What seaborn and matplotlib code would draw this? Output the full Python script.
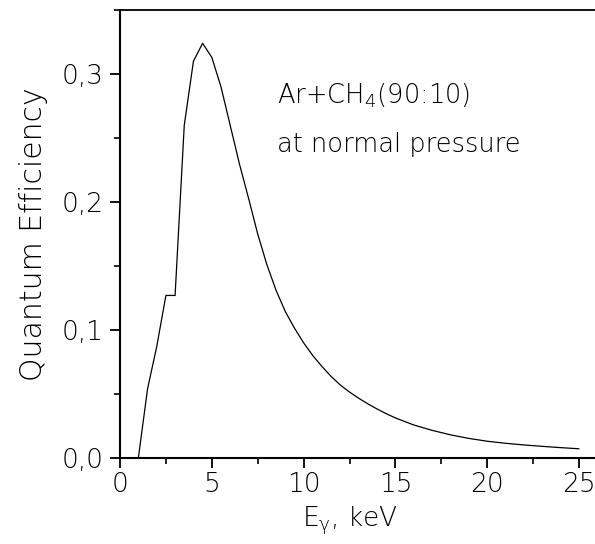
import matplotlib
matplotlib.use("Agg")
import matplotlib.pyplot as plt
from matplotlib.ticker import MultipleLocator, FuncFormatter
import seaborn as sns
import pandas as pd

energy_kev = [0, 1.0, 1.5, 2.0, 2.5, 3.0, 3.5, 4.0, 4.5, 5.0, 5.5, 6.0, 6.5, 7.0,
              7.5, 8.0, 8.5, 9.0, 9.5, 10, 10.5, 11, 11.5, 12, 12.5, 13, 13.5, 14,
              14.5, 15, 16, 17, 18, 19, 20, 21, 22, 23, 24, 25]
efficiency = [0.0, 0.0, 0.054, 0.087, 0.127, 0.127, 0.260, 0.310, 0.324, 0.313,
              0.290, 0.260, 0.230, 0.203, 0.175, 0.151, 0.131, 0.1145, 0.1015, 0.090,
              0.080, 0.0715, 0.0637, 0.057, 0.0515, 0.0467, 0.0423, 0.0383,
              0.0346, 0.0313, 0.0258, 0.0216, 0.0181, 0.0153, 0.0131, 0.0115,
              0.0102, 0.0091, 0.0081, 0.0072]
x_ticks = [0, 5, 10, 15, 20, 25]
y_ticks = [0.0, 0.1, 0.2, 0.3]
label_line1 = r"Ar+CH$_4$(90:10)"
label_line2 = "at normal pressure"
x_label = r"E$_{\mathrm{γ}}$, keV"
y_label = "Quantum Efficiency"

df = pd.DataFrame({"E": energy_kev, "QE": efficiency})

sns.set_style("ticks")
plt.rcParams["font.family"] = ["DejaVu Sans"]
plt.rcParams["font.weight"] = "light"
plt.rcParams["mathtext.fontset"] = "custom"
plt.rcParams["mathtext.rm"] = "DejaVu Sans:light"
plt.rcParams["mathtext.it"] = "DejaVu Sans:light"
plt.rcParams["mathtext.default"] = "regular"
plt.rcParams["text.color"] = "black"
plt.rcParams["axes.labelcolor"] = "black"
plt.rcParams["axes.labelweight"] = "light"

fig = plt.figure(figsize=(5.95, 5.44), dpi=100)
ax = fig.add_axes([120 / 595, 1 - 458 / 544, 475 / 595, 448 / 544])

sns.lineplot(data=df, x="E", y="QE", color="black", linewidth=0.9, ax=ax)

ax.set_xlim(0, 25.87)
ax.set_ylim(0, 0.35)
ax.set_xticks(x_ticks)
ax.set_yticks(y_ticks)
ax.xaxis.set_minor_locator(MultipleLocator(2.5))
ax.yaxis.set_minor_locator(MultipleLocator(0.05))
ax.yaxis.set_major_formatter(FuncFormatter(lambda v, p: f"{v:.1f}".replace(".", ",")))

for side in ["left", "bottom", "top"]:
    ax.spines[side].set_visible(True)
    ax.spines[side].set_color("black")
ax.spines["left"].set_linewidth(1.5)
ax.spines["bottom"].set_linewidth(1.5)
ax.spines["top"].set_linewidth(1.3)
ax.spines["right"].set_visible(False)

ax.tick_params(axis="both", which="major", direction="out", length=7, width=1.3,
               labelsize=19, colors="black")
ax.tick_params(axis="both", which="minor", direction="out", length=4, width=1.2,
               colors="black")
ax.tick_params(axis="x", which="major", pad=3)
ax.tick_params(axis="y", which="major", pad=5)
ax.tick_params(top=False, right=False, which="both")

ax.set_xlabel(x_label, fontsize=19)
ax.set_ylabel(y_label, fontsize=21.5)
ax.xaxis.set_label_coords(0.484, -0.105)
ax.yaxis.set_label_coords(-0.152, 0.5)

ax.text(8.55, 0.277, label_line1, fontsize=18.5, va="baseline", ha="left")
ax.text(8.55, 0.239, label_line2, fontsize=18.5, va="baseline", ha="left")

fig.savefig("out.png", dpi=100)
